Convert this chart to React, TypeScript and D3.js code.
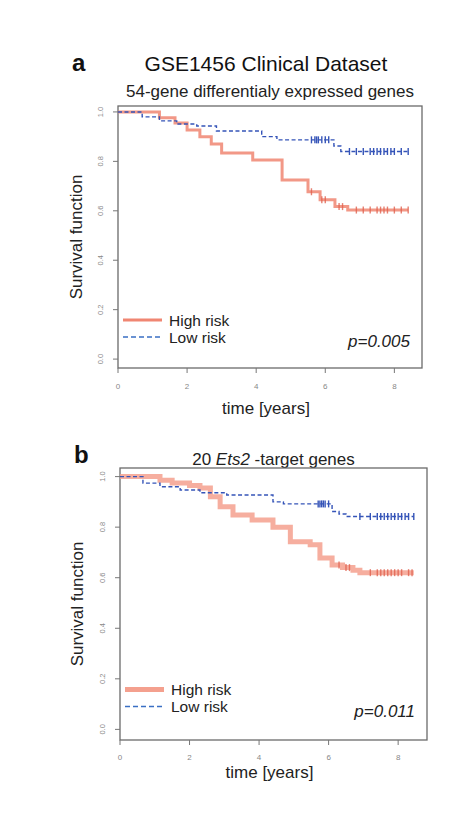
import React, { useRef, useEffect } from 'react';
import * as d3 from 'd3';

// Kaplan-Meier step points: [time in years, survival]
const highRiskA: [number, number][] = [
  [0, 1.0], [1.2, 0.976], [1.65, 0.955], [2.0, 0.927], [2.37, 0.9], [2.7, 0.87],
  [3.0, 0.834], [3.9, 0.806], [4.75, 0.725], [5.5, 0.677], [5.85, 0.645],
  [6.28, 0.617], [6.65, 0.603], [8.4, 0.603],
];
const lowRiskA: [number, number][] = [
  [0, 1.0], [0.7, 0.98], [1.2, 0.964], [1.7, 0.951], [2.28, 0.943], [2.85, 0.923],
  [4.16, 0.9], [4.6, 0.887], [6.25, 0.862], [6.45, 0.84], [8.4, 0.84],
];
const highCensorA = [5.6, 5.9, 6.0, 6.4, 6.5, 6.9, 7.1, 7.3, 7.5, 7.6, 7.7, 7.8, 8.0, 8.2, 8.4];
const lowCensorA = [5.6, 5.7, 5.75, 5.8, 5.9, 6.0, 6.1, 6.7, 6.9, 7.1, 7.3, 7.4, 7.5, 7.6, 7.7, 7.8, 7.9, 8.0, 8.2, 8.4];

const highRiskB: [number, number][] = [
  [0, 1.0], [1.15, 0.986], [1.5, 0.975], [2.0, 0.965], [2.3, 0.955], [2.6, 0.92],
  [2.88, 0.881], [3.25, 0.848], [3.8, 0.828], [4.4, 0.8], [4.9, 0.742], [5.47, 0.73],
  [5.75, 0.678], [6.1, 0.65], [6.4, 0.64], [6.7, 0.63], [6.9, 0.62], [8.45, 0.62],
];
const lowRiskB: [number, number][] = [
  [0, 1.0], [0.66, 0.974], [1.15, 0.96], [1.73, 0.947], [2.3, 0.936], [3.07, 0.927],
  [4.4, 0.9], [4.7, 0.892], [6.1, 0.862], [6.3, 0.852], [6.5, 0.842], [8.45, 0.842],
];
const highCensorB = [6.3, 6.5, 6.6, 7.2, 7.4, 7.5, 7.6, 7.7, 7.8, 7.9, 8.0, 8.1, 8.3, 8.4];
const lowCensorB = [5.7, 5.75, 5.8, 5.85, 5.9, 6.0, 6.9, 7.2, 7.4, 7.5, 7.6, 7.7, 7.8, 7.9, 8.0, 8.1, 8.2, 8.3, 8.45];

const xTicks = [0, 2, 4, 6, 8];
const yTicks = [0, 0.2, 0.4, 0.6, 0.8, 1.0];
const legendLabels = ['High risk', 'Low risk'];

const RED = '#f08672';
const BLUE = '#3554b8';
const FONT = 'Liberation Sans, Arial, sans-serif';

type PanelProps = {
  letter: string;
  subtitle: React.ReactNode;
  pValue: string;
  high: [number, number][];
  low: [number, number][];
  highCensor: number[];
  lowCensor: number[];
  box: { left: number; right: number; top: number; bottom: number };
  xMax: number;
  yDomain: [number, number];
  redWidth: number;
  redColor: string;
  letterPos: [number, number];
  subtitleY: number;
  xLabelY: number;
  yLabelX: number;
  yTickX: number;
  xTickY: number;
};

const Panel = (p: PanelProps) => {
  const gRef = useRef<SVGGElement>(null);

  useEffect(() => {
    const g = d3.select(gRef.current);
    g.selectAll('*').remove();

    const x = d3.scaleLinear().domain([0, p.xMax]).range([p.box.left, p.box.right]);
    const y = d3.scaleLinear().domain(p.yDomain).range([p.box.bottom, p.box.top]);

    // box
    g.append('rect')
      .attr('x', p.box.left).attr('y', p.box.top)
      .attr('width', p.box.right - p.box.left).attr('height', p.box.bottom - p.box.top)
      .attr('fill', 'none').attr('stroke', '#6a6a6a').attr('stroke-width', 1.3);

    // y axis ticks + rotated labels
    yTicks.forEach(t => {
      g.append('line')
        .attr('x1', p.box.left - 5).attr('x2', p.box.left)
        .attr('y1', y(t)).attr('y2', y(t))
        .attr('stroke', '#777').attr('stroke-width', 1);
      g.append('text')
        .attr('transform', `translate(${p.yTickX},${y(t)}) rotate(-90)`)
        .attr('text-anchor', 'middle')
        .attr('font-size', 7.5).attr('fill', '#888')
        .attr('font-family', FONT)
        .text(d3.format('.1f')(t));
    });

    // x axis ticks
    xTicks.forEach(t => {
      g.append('line')
        .attr('x1', x(t)).attr('x2', x(t))
        .attr('y1', p.box.bottom).attr('y2', p.box.bottom + 5)
        .attr('stroke', '#777').attr('stroke-width', 1);
      g.append('text')
        .attr('x', x(t)).attr('y', p.xTickY)
        .attr('text-anchor', 'middle')
        .attr('font-size', 8).attr('fill', '#888')
        .attr('font-family', FONT)
        .text(t);
    });

    const line = d3.line<[number, number]>()
      .x(d => x(d[0]))
      .y(d => y(d[1]))
      .curve(d3.curveStepAfter);

    const survAt = (data: [number, number][], t: number) => {
      let s = data[0][1];
      data.forEach(d => { if (d[0] <= t) s = d[1]; });
      return s;
    };

    // high risk curve
    g.append('path').datum(p.high)
      .attr('d', line).attr('fill', 'none')
      .attr('stroke', p.redColor).attr('stroke-width', p.redWidth)
      .attr('stroke-opacity', 0.85);
    p.highCensor.forEach(t => {
      g.append('line')
        .attr('x1', x(t)).attr('x2', x(t))
        .attr('y1', y(survAt(p.high, t)) - 3.5).attr('y2', y(survAt(p.high, t)) + 3.5)
        .attr('stroke', '#e0604e').attr('stroke-width', 1.4).attr('stroke-opacity', 0.8);
    });

    // low risk curve
    g.append('path').datum(p.low)
      .attr('d', line).attr('fill', 'none')
      .attr('stroke', BLUE).attr('stroke-width', 1.4)
      .attr('stroke-dasharray', '4,2.5');
    p.lowCensor.forEach(t => {
      g.append('line')
        .attr('x1', x(t)).attr('x2', x(t))
        .attr('y1', y(survAt(p.low, t)) - 3.5).attr('y2', y(survAt(p.low, t)) + 3.5)
        .attr('stroke', BLUE).attr('stroke-width', 1.4);
    });

    // legend
    const lx = p.box.left + 5;
    const ly = y(0.158);
    legendLabels.forEach((lab, i) => {
      const yy = ly + i * 17;
      g.append('line')
        .attr('x1', lx).attr('x2', lx + 39)
        .attr('y1', yy).attr('y2', yy)
        .attr('stroke', i === 0 ? p.redColor : '#3a6fc4')
        .attr('stroke-width', i === 0 ? p.redWidth : 1.6)
        .attr('stroke-dasharray', i === 0 ? null : '5,3');
      g.append('text')
        .attr('x', lx + 46).attr('y', yy + 5.5)
        .attr('font-size', 15.5).attr('fill', '#222')
        .attr('font-family', FONT)
        .text(lab);
    });

    // p value
    g.append('text')
      .attr('x', p.box.right - 12).attr('y', y(0.048))
      .attr('text-anchor', 'end')
      .attr('font-size', 17).attr('font-style', 'italic').attr('fill', '#222')
      .attr('font-family', FONT)
      .text(p.pValue);
  }, [p]);

  const cx = (p.box.left + p.box.right) / 2;
  const cy = (p.box.top + p.box.bottom) / 2;
  return (
    <g>
      <text x={p.letterPos[0]} y={p.letterPos[1]} fontSize={24} fontWeight="bold"
        fontFamily={FONT} fill="#111">{p.letter}</text>
      <text x={cx} y={p.subtitleY} textAnchor="middle" fontSize={17}
        fontFamily={FONT} fill="#222">{p.subtitle}</text>
      <text transform={`translate(${p.yLabelX},${cy}) rotate(-90)`} textAnchor="middle" fontSize={17}
        fontFamily={FONT} fill="#222">Survival function</text>
      <text x={cx - 4} y={p.xLabelY} textAnchor="middle" fontSize={17}
        fontFamily={FONT} fill="#222">time [years]</text>
      <g ref={gRef} />
    </g>
  );
};

const App = () => {
  return (
    <svg width={467} height={840} style={{ position: 'absolute', left: 0, top: 0, background: '#fff' }}>
      <rect width={467} height={840} fill="#fff" />
      <text x={266} y={71} textAnchor="middle" fontSize={21}
        fontFamily={FONT} fill="#111">GSE1456 Clinical Dataset</text>
      <Panel
        letter="a"
        subtitle="54-gene differentialy expressed genes"
        pValue="p=0.005"
        high={highRiskA} low={lowRiskA}
        highCensor={highCensorA} lowCensor={lowCensorA}
        box={{ left: 118, right: 422, top: 106, bottom: 368 }}
        xMax={8.8} yDomain={[-0.036, 1.024]}
        redWidth={3} redColor={RED}
        letterPos={[72, 71]} subtitleY={97}
        xLabelY={414} yLabelX={82} yTickX={103} xTickY={389}
      />
      <Panel
        letter="b"
        subtitle={<>20 <tspan fontStyle="italic">Ets2</tspan> -target genes</>}
        pValue="p=0.011"
        high={highRiskB} low={lowRiskB}
        highCensor={highCensorB} lowCensor={lowCensorB}
        box={{ left: 120, right: 427, top: 468, bottom: 740 }}
        xMax={8.83} yDomain={[-0.042, 1.034]}
        redWidth={5} redColor="#f4a08e"
        letterPos={[74, 463]} subtitleY={465}
        xLabelY={778} yLabelX={83} yTickX={105} xTickY={760}
      />
    </svg>
  );
};

export default App;
